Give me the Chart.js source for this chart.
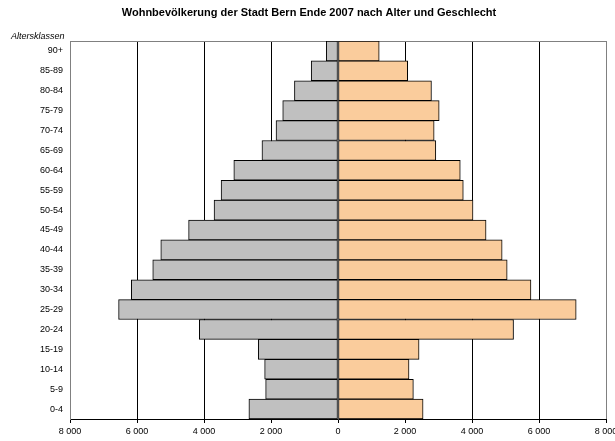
<!DOCTYPE html>
<html>
<head>
<meta charset="utf-8">
<script src="https://cdn.jsdelivr.net/npm/chart.js@4/dist/chart.umd.min.js"></script>
<style>
  html, body { margin: 0; padding: 0; background: #fff; }
  #wrap { width: 615px; height: 441px; }
</style>
</head>
<body>
<div id="wrap"><canvas id="c" width="615" height="441"></canvas></div>
<script>
// Altersklassen, von unten (0-4) nach oben (90+)
const ageGroups = ['0-4','5-9','10-14','15-19','20-24','25-29','30-34','35-39','40-44',
                   '45-49','50-54','55-59','60-64','65-69','70-74','75-79','80-84','85-89','90+'];
// Männer (links) und Frauen (rechts), Einwohnerzahl je Altersklasse
const men   = [2660, 2160, 2190, 2380, 4140, 6550, 6170, 5530, 5290, 4460, 3700, 3490, 3110, 2270, 1850, 1650, 1300, 800, 350];
const women = [2540, 2250, 2120, 2420, 5240, 7110, 5760, 5050, 4900, 4420, 4030, 3740, 3650, 2920, 2870, 3020, 2790, 2080, 1230];
// Achsenbereich und Schrittweite der x-Achse
const xMin = -8000, xMax = 8000, xStep = 2000;

const chartTitle = 'Wohnbevölkerung der Stadt Bern Ende 2007 nach Alter und Geschlecht';
const axisCaption = 'Altersklassen';
const FONT = '"Liberation Sans", Arial, sans-serif';

function fmt(v) {
  return String(Math.abs(v)).replace(/\B(?=(\d{3})+(?!\d))/g, ' ');
}

const decorations = {
  id: 'decorations',
  beforeDatasetsDraw(chart) {
    const { ctx, chartArea: a } = chart;
    ctx.save();
    ctx.strokeStyle = '#808080';
    ctx.lineWidth = 1;
    ctx.beginPath();
    ctx.moveTo(a.left, Math.round(a.top) + 0.5);
    ctx.lineTo(a.right, Math.round(a.top) + 0.5);
    ctx.stroke();
    ctx.restore();
  },
  afterDraw(chart) {
    const { ctx } = chart;
    ctx.save();
    ctx.fillStyle = '#000';
    ctx.font = 'bold 11px ' + FONT;
    ctx.textAlign = 'center';
    ctx.textBaseline = 'middle';
    ctx.fillText(chartTitle, 309, 13);
    ctx.font = 'italic 9px ' + FONT;
    ctx.textAlign = 'left';
    ctx.fillText(axisCaption, 11, 36);
    ctx.restore();
  }
};

new Chart(document.getElementById('c'), {
  type: 'bar',
  data: {
    labels: ageGroups,
    datasets: [
      {
        label: 'Männer',
        data: men.map(v => -v),
        backgroundColor: '#C0C0C0',
        borderColor: '#000',
        borderWidth: 1,
        borderSkipped: false,
        barPercentage: 1,
        categoryPercentage: 1
      },
      {
        label: 'Frauen',
        data: women,
        backgroundColor: '#FACC9C',
        borderColor: '#000',
        borderWidth: 1,
        borderSkipped: false,
        barPercentage: 1,
        categoryPercentage: 1
      }
    ]
  },
  options: {
    indexAxis: 'y',
    responsive: false,
    animation: false,
    layout: { padding: { top: 41, right: 9, left: 0, bottom: 0 } },
    plugins: {
      legend: { display: false },
      tooltip: { enabled: false },
      title: { display: false }
    },
    scales: {
      x: {
        stacked: true,
        min: xMin,
        max: xMax,
        ticks: {
          stepSize: xStep,
          color: '#000',
          font: { family: FONT, size: 9 },
          padding: 3,
          maxRotation: 0,
          callback: v => fmt(v)
        },
        grid: {
          color: c => (Math.abs(c.tick.value) === xMax ? '#808080' : (c.tick.value === 0 ? 'rgba(0,0,0,0)' : '#000')),
          tickColor: '#000',
          tickLength: 4,
          lineWidth: 1
        },
        border: { color: '#000', width: 1 },
        afterFit(s) { s.height = 22; s.paddingLeft = 0; s.paddingRight = 0; }
      },
      y: {
        stacked: true,
        reverse: true,
        ticks: {
          color: '#000',
          font: { family: FONT, size: 9 },
          padding: 7
        },
        grid: { display: false, drawTicks: false },
        border: { color: '#808080', width: 1 },
        afterFit(s) { s.width = 70; s.paddingTop = 0; s.paddingBottom = 0; }
      }
    }
  },
  plugins: [decorations]
});
</script>
</body>
</html>
